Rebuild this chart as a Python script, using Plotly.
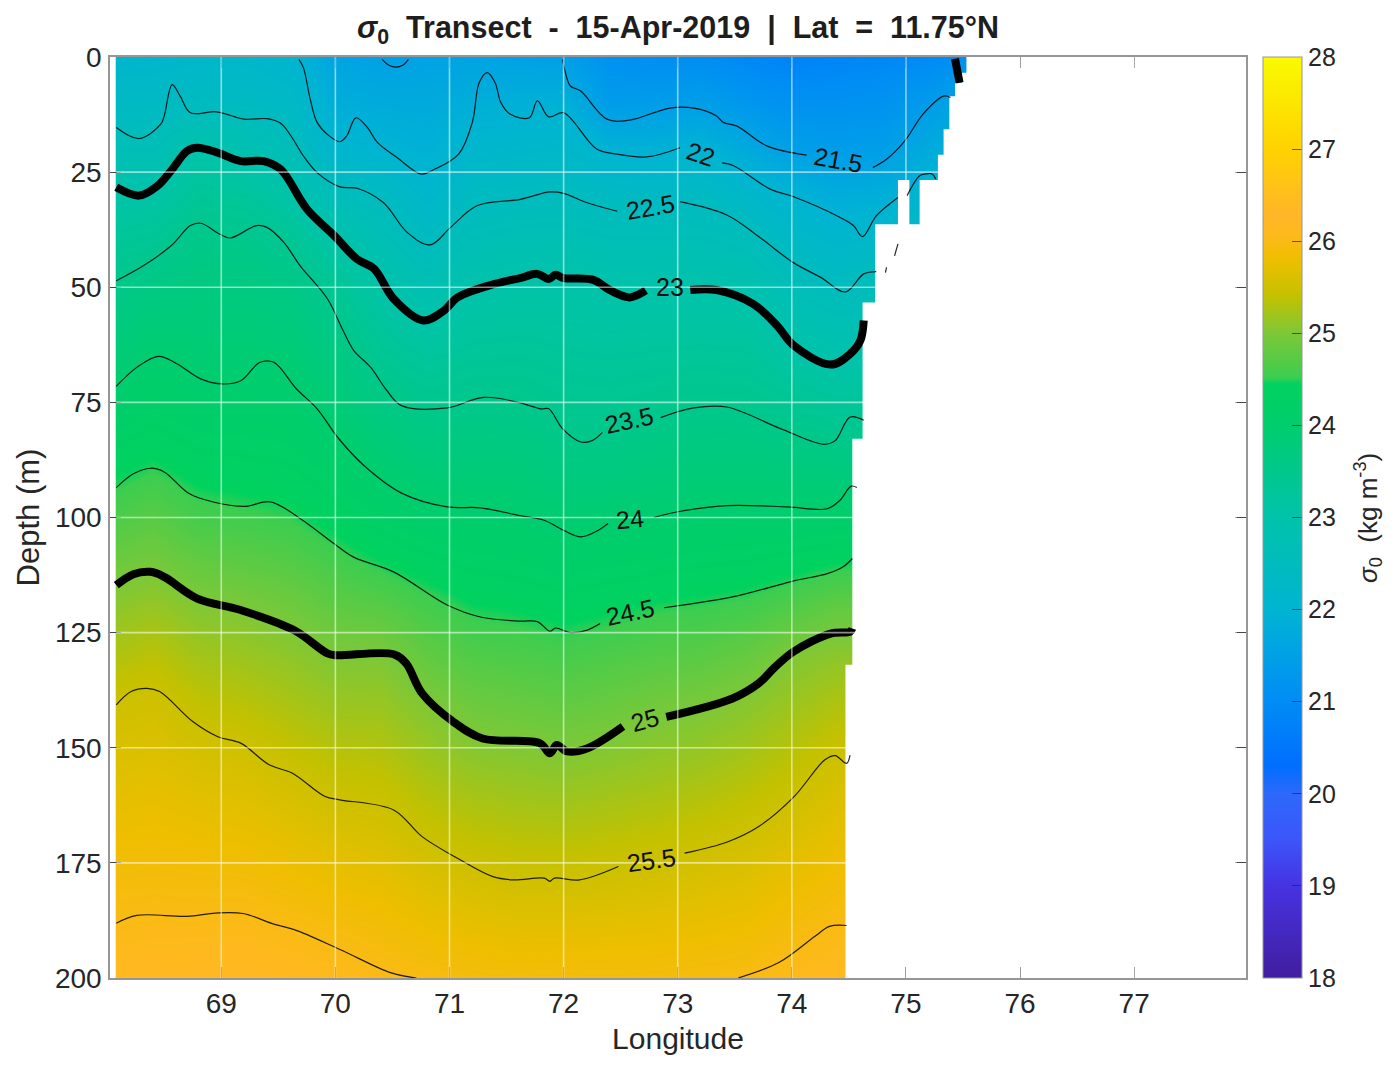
import numpy as np
import plotly.graph_objects as go

# Grid of the background field
lon_grid = [68.08, 68.4, 68.8, 69.2, 69.6, 70.0, 70.4, 70.8, 71.2, 71.6, 72.0,
            72.4, 72.8, 73.2, 73.6, 74.0, 74.4, 74.8, 75.2, 75.6]
depth_grid = [0, 10, 20, 30, 40, 50, 60, 70, 80, 90, 100, 110, 120, 130, 140,
              150, 160, 170, 180, 190, 200]

# One list per longitude, top to bottom
sigma_columns = [
    [22.12, 22.37, 22.68, 23.04, 23.29, 23.53, 23.75, 23.97, 24.19, 24.42, 24.65, 24.89, 25.10, 25.29, 25.49, 25.60, 25.70, 25.81, 25.92, 26.02, 26.14],
    [22.14, 22.38, 22.68, 23.03, 23.37, 23.64, 23.87, 24.09, 24.30, 24.51, 24.73, 24.95, 25.16, 25.36, 25.53, 25.63, 25.73, 25.83, 25.93, 26.04, 26.15],
    [22.20, 22.45, 23.01, 23.31, 23.56, 23.71, 23.85, 24.00, 24.19, 24.39, 24.59, 24.82, 25.04, 25.22, 25.39, 25.55, 25.67, 25.80, 25.92, 26.04, 26.17],
    [22.19, 22.42, 22.86, 23.24, 23.53, 23.69, 23.84, 24.00, 24.18, 24.36, 24.55, 24.77, 25.00, 25.17, 25.34, 25.51, 25.65, 25.78, 25.92, 26.05, 26.19],
    [22.08, 22.33, 22.63, 23.03, 23.37, 23.61, 23.79, 23.97, 24.15, 24.33, 24.51, 24.71, 24.92, 25.10, 25.25, 25.41, 25.57, 25.71, 25.86, 26.01, 26.13],
    [21.61, 21.83, 22.10, 22.60, 23.03, 23.34, 23.59, 23.78, 23.96, 24.17, 24.38, 24.59, 24.79, 25.00, 25.16, 25.32, 25.48, 25.64, 25.79, 25.95, 26.10],
    [21.52, 21.77, 22.02, 22.46, 22.75, 23.02, 23.26, 23.50, 23.74, 23.98, 24.22, 24.47, 24.74, 25.00, 25.15, 25.30, 25.45, 25.60, 25.75, 25.89, 26.03],
    [21.57, 21.74, 21.91, 22.16, 22.47, 22.78, 23.08, 23.34, 23.60, 23.84, 24.09, 24.36, 24.60, 24.80, 25.00, 25.16, 25.32, 25.48, 25.65, 25.81, 25.97],
    [21.58, 21.86, 22.14, 22.43, 22.70, 22.97, 23.19, 23.40, 23.61, 23.83, 24.05, 24.27, 24.48, 24.67, 24.87, 25.05, 25.23, 25.40, 25.58, 25.75, 25.92],
    [21.54, 21.89, 22.19, 22.48, 22.77, 23.04, 23.22, 23.41, 23.60, 23.81, 24.02, 24.24, 24.45, 24.64, 24.83, 25.02, 25.19, 25.36, 25.53, 25.72, 25.90],
    [21.48, 21.91, 22.23, 22.51, 22.78, 23.03, 23.18, 23.34, 23.49, 23.71, 23.94, 24.16, 24.39, 24.60, 24.79, 24.99, 25.17, 25.35, 25.53, 25.72, 25.92],
    [21.14, 21.39, 21.97, 22.40, 22.71, 22.99, 23.15, 23.31, 23.47, 23.71, 23.97, 24.21, 24.44, 24.65, 24.84, 25.03, 25.21, 25.38, 25.55, 25.73, 25.91],
    [21.04, 21.43, 21.91, 22.38, 22.70, 22.97, 23.17, 23.35, 23.55, 23.77, 24.00, 24.25, 24.50, 24.70, 24.91, 25.09, 25.25, 25.42, 25.58, 25.75, 25.92],
    [21.04, 21.45, 22.00, 22.42, 22.71, 22.98, 23.18, 23.38, 23.59, 23.82, 24.05, 24.29, 24.53, 24.74, 24.96, 25.13, 25.30, 25.47, 25.63, 25.78, 25.94],
    [20.90, 21.27, 21.74, 22.24, 22.61, 22.92, 23.16, 23.36, 23.58, 23.82, 24.06, 24.32, 24.58, 24.83, 25.05, 25.21, 25.37, 25.53, 25.68, 25.82, 25.97],
    [20.80, 21.12, 21.48, 21.99, 22.34, 22.65, 22.93, 23.22, 23.51, 23.79, 24.07, 24.38, 24.69, 25.01, 25.17, 25.33, 25.48, 25.63, 25.78, 25.93, 26.07],
    [20.85, 21.14, 21.42, 21.80, 22.18, 22.51, 22.80, 23.10, 23.41, 23.75, 24.11, 24.46, 24.82, 25.09, 25.28, 25.46, 25.61, 25.74, 25.88, 26.01, 26.15],
    [20.90, 21.17, 21.45, 21.86, 22.27, 22.60, 22.85, 23.12, 23.43, 23.77, 24.13, 24.48, 24.84, 25.11, 25.30, 25.48, 25.63, 25.76, 25.90, 26.03, 26.17],
    [20.95, 21.40, 21.77, 22.10, 22.40, 22.70, 22.95, 23.20, 23.50, 23.80, 24.15, 24.50, 24.86, 25.13, 25.32, 25.50, 25.65, 25.78, 25.92, 26.05, 26.19],
    [21.10, 21.70, 22.00, 22.30, 22.60, 22.85, 23.05, 23.30, 23.55, 23.85, 24.18, 24.52, 24.88, 25.15, 25.34, 25.52, 25.67, 25.80, 25.94, 26.07, 26.21],
]

# Isopycnal depths, None marks the gap left for a label
lon_215 = [70.41, 70.47, 70.53, 70.59, 70.64, None,
           71.99, 72.02, 72.06, 72.15, 72.38, 72.58, 72.93, 73.14, 73.34, 73.40, 73.52, 73.78, 74.13, None,
           74.71, 74.83, 74.99, 75.15, 75.33, 75.39]
dep_215 = [0.5, 1.8, 2.2, 1.8, 0.5, None,
           0.5, 3.8, 6.3, 7.4, 13.5, 13.7, 11.1, 11.1, 12.8, 14.2, 15.0, 19.3, 21.3, None,
           24.0, 22.2, 18.2, 12.4, 8.5, 8.8]

lon_22 = [69.68, 69.72, 69.78, 69.84, 69.93, 70.04, 70.10, 70.18, 70.28, 70.37, 70.54, 70.75, 70.86, 71.08,
          71.20, 71.26, 71.33, 71.40, 71.45, 71.53, 71.70, 71.77, 71.87, 72.0, 72.29, 72.47, 72.73, 73.02, None,
          73.39, 73.49, 73.81, 74.01, 74.42, 74.54, 74.62, 74.74, 74.93, None,
          75.01, 75.12, 75.17, 75.23, 75.26]
dep_22 = [0.5, 2.3, 9.2, 14.2, 16.8, 18.4, 17.1, 13.2, 15.3, 18.6, 21.8, 25.4, 24.5, 21.1,
          14.2, 5.6, 3.4, 5.6, 9.9, 12.4, 13.2, 9.5, 13.0, 12.1, 20.0, 21.1, 21.7, 19.7, None,
          23.0, 23.6, 28.7, 30.3, 34.8, 36.6, 39.0, 34.5, 30.5, None,
          30.1, 25.8, 25.4, 25.4, 26.5]

lon_225 = [68.08, 68.28, 68.47, 68.50, 68.57, 68.64, 68.73, 68.96, 69.20, 69.40, 69.52, 69.61, 69.72, 69.84,
           70.04, 70.19, 70.42, 70.63, 70.83, 71.01, 71.24, 71.62, 71.88, 72.0, 72.2, 72.47, None,
           73.02, 73.43, 73.72, 74.01, 74.25, 74.47, 74.63, 74.74, None,
           74.82, 74.83, None, 74.90, 74.93]
dep_225 = [15.3, 17.7, 14.6, 12.8, 6.0, 8.5, 12.1, 11.9, 13.5, 13.4, 14.4, 17.1, 21.5, 25.1,
           28.2, 28.5, 31.6, 38.1, 40.8, 37.0, 32.3, 30.9, 29.3, 29.6, 31.6, 33.5, None,
           31.4, 34.3, 39.2, 44.6, 47.8, 51.0, 47.1, 46.6, None,
           46.8, 45.7, None, 43.2, 40.6]

lon_23 = [68.08, 68.28, 68.44, 68.56, 68.70, 68.79, 68.96, 69.17, 69.37, 69.52, 69.75, 69.99, 70.19, 70.34,
          70.51, 70.77, 70.95, 71.07, 71.39, 71.62, 71.77, 71.87, 71.93, 72.0, 72.26, 72.41, 72.58, 72.72, None,
          73.11, 73.34, 73.66, 73.87, 74.01, 74.34, 74.51, 74.60, 74.63, None,
          75.43, 75.47]
dep_23 = [28.3, 30.1, 28.0, 24.7, 20.4, 19.7, 20.7, 22.6, 22.6, 24.4, 33.0, 38.8, 43.9, 46.0,
          52.5, 57.2, 55.1, 52.2, 49.3, 48.0, 47.1, 48.2, 47.3, 48.0, 48.4, 50.7, 52.2, 50.7, None,
          50.6, 50.6, 53.6, 58.3, 62.5, 66.8, 64.5, 61.6, 57.2, None,
          0.4, 5.6]

lon_235 = [68.08, 68.32, 68.56, 68.73, 68.82, 68.99, 69.08, 69.31, 69.40, 69.55, 69.69, 69.93, 70.06, 70.16,
           70.31, 70.45, 70.58, 70.98, 71.30, 71.62, 71.80, 71.87, 71.99, 72.15, 72.25, 72.34, None,
           72.85, 73.14, 73.43, 73.90, 74.28, 74.38, 74.51, 74.63]
dep_235 = [48.6, 45.3, 41.0, 36.6, 36.1, 38.5, 39.3, 36.6, 37.0, 40.3, 45.3, 52.5, 59.0, 63.7,
           67.4, 72.4, 75.7, 76.2, 73.9, 75.1, 76.4, 76.4, 80.7, 83.6, 83.3, 81.5, None,
           78.3, 76.2, 76.0, 80.7, 84.1, 83.3, 78.2, 78.9]

lon_24 = [68.08, 68.26, 68.45, 68.61, 68.82, 69.01, 69.17, 69.34, 69.46, 69.66, 69.84, 70.03, 70.25, 70.58,
          70.98, 71.27, 71.62, 71.83, 72.0, 72.15, 72.28, 72.39, None,
          72.79, 72.99, 73.43, 73.96, 74.31, 74.42, 74.52, 74.57]
dep_24 = [71.5, 67.4, 65.0, 66.6, 69.9, 71.0, 70.3, 66.3, 66.3, 72.1, 76.4, 82.9, 88.7, 94.7,
          97.7, 97.9, 99.6, 100.6, 102.8, 104.2, 103.1, 101.3, None,
          100.0, 98.8, 97.4, 97.7, 98.1, 96.3, 93.2, 93.5]

lon_245 = [68.08, 68.23, 68.38, 68.50, 68.70, 68.85, 69.20, 69.43, 69.69, 69.99, 70.16, 70.51, 70.98, 71.27,
           71.62, 71.77, 71.88, 71.93, 72.06, 72.2, 72.32, None,
           72.88, 73.49, 74.01, 74.31, 74.45, 74.53]
dep_245 = [93.5, 90.5, 89.3, 90.1, 94.5, 96.1, 97.6, 96.6, 100.2, 105.7, 108.6, 111.8, 119.0, 121.6,
           122.5, 122.6, 124.7, 124.0, 125.0, 124.5, 123.0, None,
           119.6, 117.2, 113.8, 112.2, 110.7, 108.9]

lon_25 = [68.08, 68.23, 68.38, 68.50, 68.79, 69.17, 69.64, 69.93, 70.0, 70.51, 70.62, 70.76, 71.03, 71.29,
          71.79, 71.88, 71.94, 72.03, 72.21, 72.52, None,
          72.90, 73.48, 73.71, 73.84, 74.01, 74.34, 74.51, 74.53]
dep_25 = [114.7, 112.3, 111.8, 112.9, 117.6, 120.1, 124.5, 129.5, 129.9, 129.7, 131.7, 138.2, 144.3, 148.0,
          149.0, 151.2, 149.4, 150.8, 150.1, 145.4, None,
          143.3, 139.3, 136.0, 132.8, 129.2, 125.2, 124.8, 124.1]

lon_255 = [68.08, 68.21, 68.35, 68.46, 68.75, 68.97, 69.17, 69.42, 69.62, 69.91, 70.04, 70.51, 70.76, 71.07,
           71.38, 71.56, 71.83, 71.88, 71.92, 72.14, 72.48, None,
           73.06, 73.44, 73.71, 74.02, 74.29, 74.38, 74.48, 74.51]
dep_255 = [140.7, 137.8, 137.1, 137.8, 144.3, 147.6, 149.0, 153.7, 155.5, 160.6, 161.3, 163.5, 169.3, 174.0,
           178.0, 178.7, 178.3, 179.0, 178.3, 178.7, 175.8, None,
           172.9, 170.4, 167.1, 160.6, 152.6, 151.7, 153.4, 151.6]

lon_26 = [68.08, 68.26, 68.70, 68.95, 69.19, 69.46, 69.64, 70.04, 70.49, 70.71, None,
          73.53, 73.89, 74.2, 74.33, 74.48]
dep_26 = [188.1, 186.4, 186.6, 185.9, 186.0, 188.3, 189.5, 193.8, 198.9, 200, None,
          200, 196.6, 191, 188.8, 188.6]

# Outside the sampled section (left strip and the land on the right)
nodata_lon = [67.9, 68.075, 68.075, 67.9, None,
              75.53, 75.53, 75.49, 75.49, 75.43, 75.43, 75.38, 75.38, 75.33, 75.33, 75.28, 75.28, 75.12, 75.12,
              75.03, 75.03, 74.93, 74.93, 74.73, 74.73, 74.62, 74.62, 74.53, 74.53, 74.47, 74.47, 78.2, 78.2]
nodata_dep = [-1, -1, 201, 201, None,
              -1, 3.4, 3.4, 5.6, 5.6, 8.5, 8.5, 15.7, 15.7, 21.2, 21.2, 26.7, 26.7, 36.3,
              36.3, 26.7, 26.7, 36.3, 36.3, 53.3, 53.3, 82.9, 82.9, 132, 132, 201, 201, -1]

label_text = ["21.5", "22", "22.5", "23", "23.5", "24", "24.5", "25", "25.5"]
label_lon = [74.41, 73.2, 72.76, 72.93, 72.58, 72.58, 72.59, 72.71, 72.77]
label_dep = [22.3, 21.0, 32.5, 49.9, 78.9, 100.4, 120.6, 144.0, 174.4]
label_angle = [10, 18, -10, 0, -12, -5, -12, -15, -8]

lon_ticks = [69, 70, 71, 72, 73, 74, 75, 76, 77]
depth_ticks = [0, 25, 50, 75, 100, 125, 150, 175, 200]
cbar_ticks = [18, 19, 20, 21, 22, 23, 24, 25, 26, 27, 28]

sigma_scale = [
    [0.0, "rgb(65,30,160)"], [0.1, "rgb(70,50,225)"], [0.15, "rgb(60,85,250)"],
    [0.2, "rgb(45,105,250)"], [0.23, "rgb(0,110,255)"], [0.3, "rgb(0,140,245)"],
    [0.35, "rgb(0,160,230)"], [0.4, "rgb(0,180,210)"], [0.5, "rgb(0,195,170)"],
    [0.6, "rgb(0,205,110)"], [0.645, "rgb(0,210,95)"], [0.652, "rgb(60,205,80)"],
    [0.7, "rgb(125,200,55)"], [0.74, "rgb(195,193,0)"], [0.765, "rgb(222,192,0)"],
    [0.78, "rgb(238,190,0)"], [0.81, "rgb(255,185,30)"], [0.83, "rgb(255,182,40)"],
    [0.9, "rgb(255,210,0)"], [1.0, "rgb(250,250,0)"],
]

FONT = "Liberation Sans"
TEXT = "rgb(38,38,38)"
FRAME = "rgb(150,150,150)"

fig = go.Figure()

# Background field
fig.add_trace(go.Heatmap(
    x=lon_grid, y=depth_grid, z=np.array(sigma_columns).T,
    zmin=18, zmax=28, zsmooth="best", colorscale=sigma_scale, hoverinfo="skip",
    colorbar=dict(
        x=1.01495, xanchor="left", xpad=0, y=0.5, len=1, ypad=0, thickness=38.5,
        outlinecolor=FRAME, outlinewidth=1, ticks="inside", ticklen=10, tickcolor="rgba(40,40,40,0.7)",
        tickvals=cbar_ticks, tickfont=dict(family=FONT, size=25, color=TEXT),
    ),
))

# White mask
fig.add_trace(go.Scatter(x=nodata_lon, y=nodata_dep, mode="lines", fill="toself",
                         fillcolor="white", line=dict(width=0), hoverinfo="skip", showlegend=False))

# Thin contours
for lon, dep in [(lon_215, dep_215), (lon_22, dep_22), (lon_225, dep_225), (lon_235, dep_235),
                 (lon_24, dep_24), (lon_245, dep_245), (lon_255, dep_255), (lon_26, dep_26)]:
    fig.add_trace(go.Scatter(x=lon, y=dep, mode="lines", showlegend=False, hoverinfo="skip",
                             line=dict(color="rgba(0,0,0,0.85)", width=1.2, shape="spline", smoothing=1.0)))

# Thick contours
for lon, dep in [(lon_23, dep_23), (lon_25, dep_25)]:
    fig.add_trace(go.Scatter(x=lon, y=dep, mode="lines", showlegend=False, hoverinfo="skip",
                             line=dict(color="black", width=8, shape="spline", smoothing=1.0)))

# Grid goes on top of the field
grid = dict(color="rgba(255,255,255,0.55)", width=1.6)
shapes = []
for v in lon_ticks:
    shapes.append(dict(type="line", xref="x", yref="y", x0=v, x1=v, y0=0, y1=200, line=grid, layer="above"))
for v in depth_ticks[1:-1]:
    shapes.append(dict(type="line", xref="x", yref="y", x0=68.08, x1=77.9, y0=v, y1=v, line=grid, layer="above"))

annotations = []
for t, x, y, a in zip(label_text, label_lon, label_dep, label_angle):
    annotations.append(dict(text=t, x=x, y=y, xref="x", yref="y", showarrow=False, textangle=a,
                            font=dict(family=FONT, size=25, color="rgb(15,15,15)")))

# Colorbar title, placed by hand so it sits clear of the tick labels
annotations.append(dict(text="<i>σ</i><sub>0</sub>\u00a0\u00a0(kg m<sup>-3</sup>)", textangle=-90, showarrow=False,
                        xref="paper", yref="paper", x=(1368 - 109.5) / 1137, xanchor="center", y=0.5,
                        font=dict(family=FONT, size=26, color=TEXT)))

fig.update_layout(
    width=1380, height=1057, paper_bgcolor="white", plot_bgcolor="white",
    margin=dict(l=101.5, r=141.5, t=48.5, b=86.5, autoexpand=False),
    font=dict(family=FONT, color=TEXT),
    title=dict(text="<b><i>σ</i><sub>0</sub>\u00a0\u00a0Transect\u00a0\u00a0-\u00a0\u00a015-Apr-2019\u00a0\u00a0|\u00a0\u00a0Lat\u00a0\u00a0=\u00a0\u00a011.75°N</b>",
               x=0.5, xref="paper", y=1 - 19 / 1057, yref="container", yanchor="middle",
               font=dict(family=FONT, size=30.5, color="rgb(30,30,30)")),
    shapes=shapes, annotations=annotations,
    xaxis=dict(range=[68.025, 77.98], tickvals=lon_ticks, ticks="inside", ticklen=11, tickcolor="rgb(70,70,70)",
               showline=True, linecolor=FRAME, linewidth=1.5, mirror="ticks", showgrid=False, zeroline=False,
               tickfont=dict(family=FONT, size=28, color=TEXT),
               title=dict(text="Longitude", standoff=10, font=dict(family=FONT, size=30, color=TEXT))),
    yaxis=dict(range=[200, 0], tickvals=depth_ticks, ticks="inside", ticklen=11, tickcolor="rgb(70,70,70)",
               showline=True, linecolor=FRAME, linewidth=1.5, mirror="ticks", showgrid=False, zeroline=False,
               tickfont=dict(family=FONT, size=28, color=TEXT), ticklabelstandoff=1,
               title=dict(text="Depth (m)", standoff=6, font=dict(family=FONT, size=31, color=TEXT))),
)

fig.write_html("out.html")
